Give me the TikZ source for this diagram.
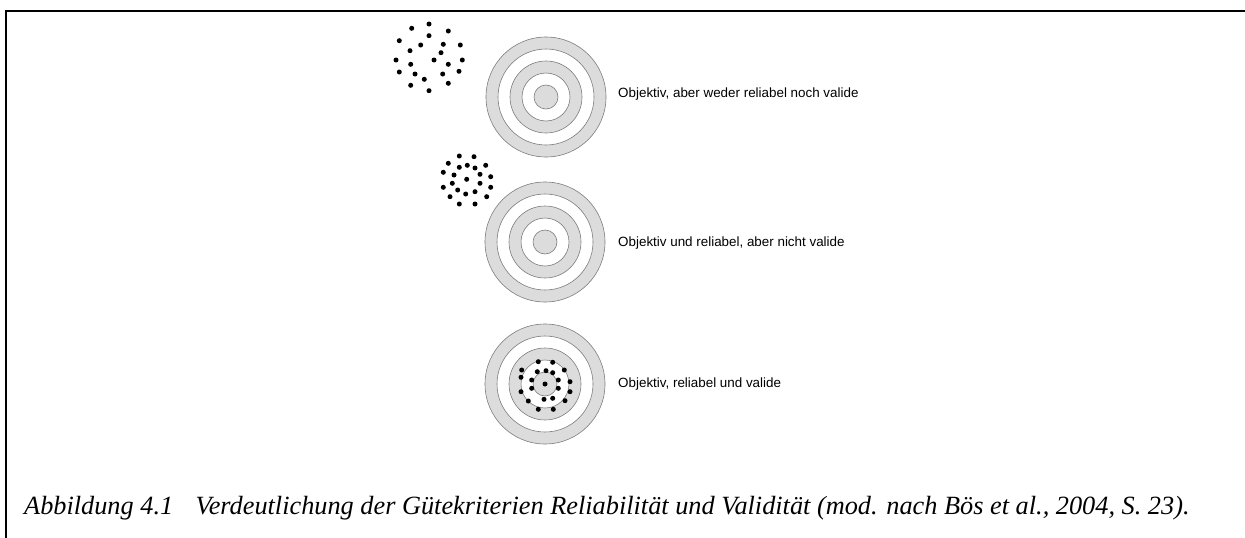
\documentclass[tikz,border=0pt]{standalone}
\usepackage{fontspec}
\setmainfont{Liberation Serif}
\newfontfamily\arialfont{Liberation Sans}
\definecolor{ringgray}{RGB}{220,220,220}
\definecolor{ringline}{RGB}{125,125,125}
\newcommand\drawtarget[2]{%
  \fill[ringgray, even odd rule] (#1,#2) circle[radius=60pt] (#1,#2) circle[radius=48pt]
     (#1,#2) circle[radius=36pt] (#1,#2) circle[radius=24pt] (#1,#2) circle[radius=12pt];
  \foreach \r in {60,48,36,24,12} {\draw[ringline, line width=0.6pt] (#1,#2) circle[radius=\r pt];}
}
\begin{document}
\begin{tikzpicture}[x=1pt,y=-1pt,
  dotmark/.style={fill=black},
  frameline/.style={line width=2pt, line cap=rect},
  lbl/.style={anchor=west, inner sep=0pt, font=\arialfont\fontsize{13.4}{16}\selectfont},
  capt/.style={anchor=base west, inner sep=0pt, font=\itshape\fontsize{26.3}{30}\selectfont}]
\useasboundingbox (0,0) rectangle (1245,538);
% frame
\coordinate (ftl) at (6,11);
\coordinate (ftr) at (1245,11);
\coordinate (fbl) at (6,538);
\draw[frameline] (fbl) -- (ftl) -- (ftr);
% targets
\drawtarget{546}{97}
\drawtarget{545}{242}
\drawtarget{545}{384}
% dot cluster 1
\foreach \x/\y in {429/24,411.7/28.3,448.3/31,429/35.7,399.3/40.7,420.7/45,443.3/44.3,460.3/45,410/50.7,441/52.7,396/60,434/60,462.3/60,410.7/64.3,448.3/64.3,399.3/72,415/74,442.7/74,459/71.3,424.3/79.3,410.7/85.3,448.3/83.3,429/90.7}
  \fill[dotmark] (\x,\y) circle[radius=2.5pt];
% dot cluster 2
\foreach \x/\y in {459.3/156,474/156.7,448.3/163.3,459.3/167.3,467.3/165.3,475/168,485.7/165.3,443.3/172.3,454/175,466.7/179.3,480/174.3,490.7/176.7,452.3/183.3,480/183.3,443.3/187.3,457.7/190,465.7/194,475/191.7,490.7/187.3,450/196.7,486.7/196.7,459.3/204,475/204}
  \fill[dotmark] (\x,\y) circle[radius=2.5pt];
% dot cluster 3
\foreach \x/\y in {538.3/361.7,552.7/362.3,521.7/370,564.3/370,537.3/371.7,546/370.7,552.7/372.7,531.7/380,558.3/380,521/377.3,570/381.7,545/384,531.7/388.3,558.3/388.3,521/391.7,570/391.7,528.3/401,544/399.3,552.7/398.3,565/400.7,538.3/409.3,553.3/409.3}
  \fill[dotmark] (\x,\y) circle[radius=2.5pt];
% labels
\node[lbl] (l1) at (618,94) {Objektiv, aber weder reliabel noch valide};
\node[lbl] (l2) at (618,243) {Objektiv und reliabel, aber nicht valide};
\node[lbl] (l3) at (618,384) {Objektiv, reliabel und valide};
% caption
\node[capt] (cap) at (24,514) {Abbildung 4.1\hspace{0.85em}Verdeutlichung der Gütekriterien Reliabilität und Validität (mod. nach Bös et al., 2004, S. 23).};
\end{tikzpicture}
\end{document}
